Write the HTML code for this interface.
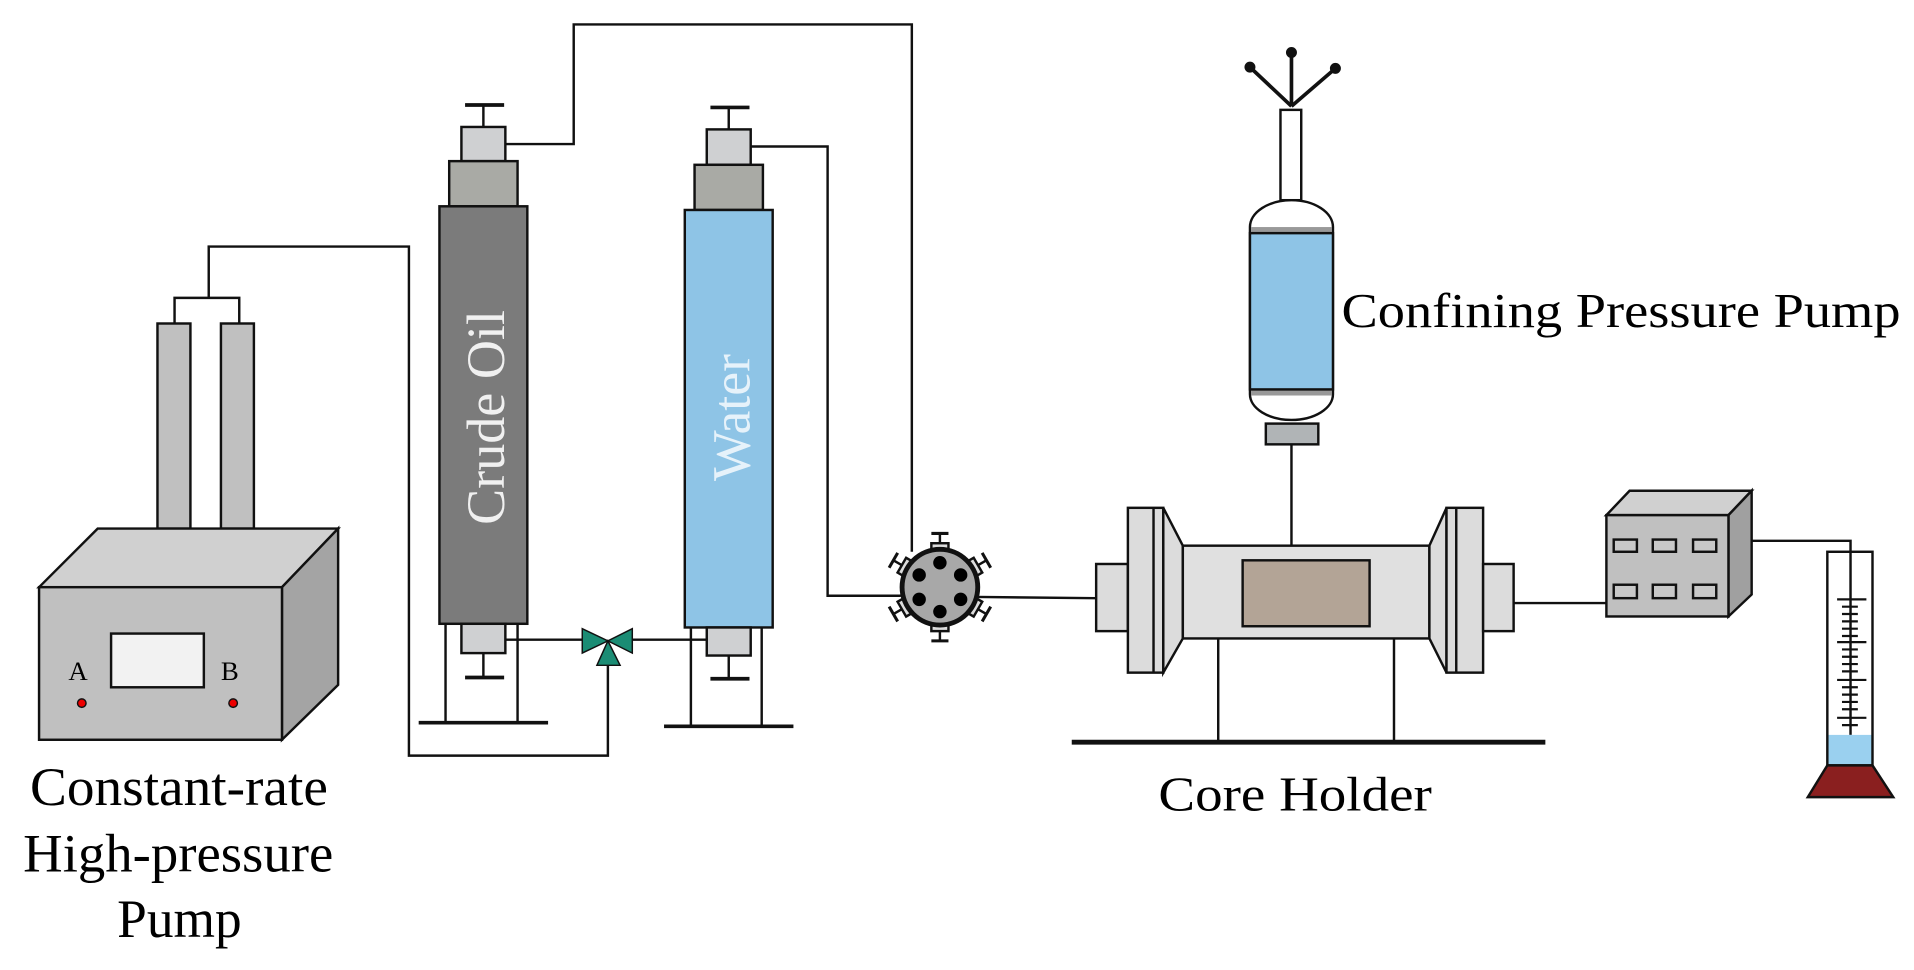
<!DOCTYPE html>
<html><head><meta charset="utf-8"><style>
html,body{margin:0;padding:0;background:#fff;width:1914px;height:970px;overflow:hidden}
svg{display:block}
text{font-family:"Liberation Serif",serif;fill:#000}
</style></head><body>
<svg width="1914" height="970" viewBox="0 0 1568 794.6" preserveAspectRatio="none" xmlns="http://www.w3.org/2000/svg">
<g stroke="#111" stroke-width="2" fill="none">
<!-- pipes -->
<polyline points="143,265 143,244 196,244 196,265"/>
<polyline points="171,244 171,202 335,202 335,619 498,619 498,545"/>
<polyline points="414,118 470,118 470,20 747,20 747,452"/>
<polyline points="615,120 678,120 678,488 738,488"/>
<line x1="414" y1="524" x2="477" y2="524"/>
<line x1="518" y1="524" x2="579" y2="524"/>
<line x1="800" y1="489" x2="898" y2="490"/>
<line x1="1240" y1="494" x2="1316" y2="494"/>
<polyline points="1435,443 1516,443 1516,602"/>
<line x1="1058" y1="364" x2="1058" y2="447"/>
</g>

<!-- Pump box -->
<g stroke="#111" stroke-width="2">
<rect x="129" y="265" width="27" height="168" fill="#c0c0c0"/>
<rect x="181" y="265" width="27" height="168" fill="#c0c0c0"/>
<polygon points="32,481 80,433 277,433 231,481" fill="#d0d0d0"/>
<polygon points="231,481 277,433 277,561 231,606" fill="#a4a4a4"/>
<rect x="32" y="481" width="199" height="125" fill="#c0c0c0"/>
<rect x="91" y="519" width="76" height="44" fill="#f2f2f2"/>
<circle cx="67" cy="576" r="3.5" fill="#e00" stroke-width="1.2"/>
<circle cx="191" cy="576" r="3.5" fill="#e00" stroke-width="1.2"/>
</g>
<text x="56" y="557" font-size="22">A</text>
<text x="181" y="557" font-size="22">B</text>

<!-- Crude oil column -->
<g stroke="#111" stroke-width="2">
<line x1="396" y1="86" x2="396" y2="104"/><line x1="381" y1="86" x2="413" y2="86" stroke-width="3"/>
<rect x="378" y="104" width="36" height="28" fill="#cfd0d2"/>
<rect x="368" y="132" width="56" height="37" fill="#a9aaa5"/>
<rect x="360" y="169" width="72" height="342" fill="#7b7b7b"/>
<rect x="378" y="511" width="36" height="24" fill="#cfd0d2"/>
<line x1="396" y1="535" x2="396" y2="555"/><line x1="381" y1="555" x2="413" y2="555" stroke-width="3"/>
<line x1="365" y1="511" x2="365" y2="591"/><line x1="424" y1="511" x2="424" y2="591"/>
<line x1="343" y1="592" x2="449" y2="592" stroke-width="3"/>
</g>
<text transform="translate(413,342) rotate(-90)" text-anchor="middle" font-size="44" style="fill:#f0f0f0" textLength="176" lengthAdjust="spacingAndGlyphs">Crude Oil</text>

<!-- Water column -->
<g stroke="#111" stroke-width="2">
<line x1="597" y1="88" x2="597" y2="106"/><line x1="582" y1="88" x2="614" y2="88" stroke-width="3"/>
<rect x="579" y="106" width="36" height="29" fill="#cfd0d2"/>
<rect x="569" y="135" width="56" height="37" fill="#a9aaa5"/>
<rect x="561" y="172" width="72" height="342" fill="#8ec4e6"/>
<rect x="579" y="514" width="36" height="23" fill="#cfd0d2"/>
<line x1="597" y1="537" x2="597" y2="556"/><line x1="582" y1="556" x2="614" y2="556" stroke-width="3"/>
<line x1="566" y1="514" x2="566" y2="594"/><line x1="624" y1="514" x2="624" y2="594"/>
<line x1="544" y1="595" x2="650" y2="595" stroke-width="3"/>
</g>
<text transform="translate(614,342) rotate(-90)" text-anchor="middle" font-size="44" style="fill:#e6f2fa" textLength="104" lengthAdjust="spacingAndGlyphs">Water</text>

<!-- 3-way valve -->
<g fill="#1b8c74" stroke="#111" stroke-width="1.2">
<polygon points="477,515 498,525 477,535"/>
<polygon points="518,515 498,525 518,535"/>
<polygon points="498,525 489,545 508,545"/>
</g>

<!-- six-port valve -->
<g transform="translate(770,481)" stroke="#111">
<g stroke-width="2" fill="#ddd">
<g id="stub"><rect x="-7" y="-36" width="14" height="5"/><line x1="0" y1="-36" x2="0" y2="-44"/><line x1="-7" y1="-44" x2="7" y2="-44" stroke-width="2.5"/></g>
<use href="#stub" transform="rotate(60)"/><use href="#stub" transform="rotate(120)"/>
<use href="#stub" transform="rotate(180)"/><use href="#stub" transform="rotate(240)"/><use href="#stub" transform="rotate(300)"/>
</g>
<circle r="31" fill="#a8a8a8" stroke-width="4"/>
<g fill="#000" stroke="none">
<circle cx="0" cy="-20" r="5.5"/><circle cx="17" cy="-10" r="5.5"/><circle cx="17" cy="10" r="5.5"/>
<circle cx="0" cy="20" r="5.5"/><circle cx="-17" cy="10" r="5.5"/><circle cx="-17" cy="-10" r="5.5"/>
</g>
</g>

<!-- Core holder -->
<g stroke="#111" stroke-width="2">
<rect x="898" y="462" width="26" height="55" fill="#dcdcdc"/>
<rect x="924" y="416" width="29" height="135" fill="#dcdcdc"/>
<line x1="945" y1="416" x2="945" y2="551"/>
<polygon points="953,416 969,447 969,523 953,551" fill="#dcdcdc"/>
<rect x="969" y="447" width="202" height="76" fill="#e0e0e0"/>
<rect x="1018" y="459" width="104" height="54" fill="#b3a496"/>
<polygon points="1185,416 1171,447 1171,523 1185,551" fill="#dcdcdc"/>
<rect x="1185" y="416" width="30" height="135" fill="#dcdcdc"/>
<line x1="1193" y1="416" x2="1193" y2="551"/>
<rect x="1215" y="462" width="25" height="55" fill="#dcdcdc"/>
<line x1="998" y1="523" x2="998" y2="607"/><line x1="1142" y1="523" x2="1142" y2="607"/>
<line x1="878" y1="608" x2="1266" y2="608" stroke-width="4"/>
</g>
<text x="949" y="664" font-size="40" textLength="224" lengthAdjust="spacingAndGlyphs">Core Holder</text>

<!-- Confining pump -->
<g stroke="#111" stroke-width="2">
<line x1="1058" y1="87" x2="1024" y2="55" stroke-width="3"/>
<line x1="1058" y1="87" x2="1058" y2="43" stroke-width="3"/>
<line x1="1058" y1="87" x2="1094" y2="56" stroke-width="3"/>
<circle cx="1024" cy="55" r="3.5" fill="#111"/><circle cx="1058" cy="43" r="3.5" fill="#111"/><circle cx="1094" cy="56" r="3.5" fill="#111"/>
<rect x="1049" y="90" width="17" height="74" fill="#fff"/>
<path d="M1024,190 L1024,186 A34,22 0 0 1 1092,186 L1092,323 A34,21 0 0 1 1024,323 Z" fill="#fff"/>
<rect x="1025" y="186" width="66" height="5" fill="#999" stroke="none"/>
<rect x="1025" y="319" width="66" height="5" fill="#999" stroke="none"/>
<rect x="1024" y="191" width="68" height="128" fill="#8ec4e6"/>
<rect x="1037" y="347" width="43" height="17" fill="#b0b4b6"/>
</g>
<text x="1099" y="268" font-size="40" textLength="458" lengthAdjust="spacingAndGlyphs">Confining Pressure Pump</text>

<!-- flow box -->
<g stroke="#111" stroke-width="2">
<polygon points="1316,422 1335,402 1435,402 1416,422" fill="#d0d0d0"/>
<polygon points="1416,422 1435,402 1435,487 1416,505" fill="#a0a0a0"/>
<rect x="1316" y="422" width="100" height="83" fill="#c0c0c0"/>
<g fill="#c8c8c8">
<rect x="1322" y="442" width="19" height="10"/><rect x="1354" y="442" width="19" height="10"/><rect x="1387" y="442" width="19" height="10"/>
<rect x="1322" y="479" width="19" height="11"/><rect x="1354" y="479" width="19" height="11"/><rect x="1387" y="479" width="19" height="11"/>
</g>
</g>

<!-- graduated cylinder -->
<g stroke="#111" stroke-width="2">
<rect x="1498" y="602" width="36" height="25" fill="#9ad0ef" stroke="none"/>
<rect x="1497" y="452" width="37" height="175" fill="none"/>
<polygon points="1497,627 1534,627 1551,653 1481,653" fill="#8a1f1f"/>
<g stroke-width="1.8">
<line x1="1505" y1="491" x2="1529" y2="491"/><line x1="1505" y1="526" x2="1529" y2="526"/>
<line x1="1505" y1="557" x2="1529" y2="557"/><line x1="1505" y1="588" x2="1529" y2="588"/>
<line x1="1509" y1="497" x2="1522" y2="497"/><line x1="1509" y1="503" x2="1522" y2="503"/><line x1="1509" y1="509" x2="1522" y2="509"/><line x1="1509" y1="515" x2="1522" y2="515"/><line x1="1509" y1="521" x2="1522" y2="521"/>
<line x1="1509" y1="532" x2="1522" y2="532"/><line x1="1509" y1="538" x2="1522" y2="538"/><line x1="1509" y1="544" x2="1522" y2="544"/><line x1="1509" y1="550" x2="1522" y2="550"/>
<line x1="1509" y1="563" x2="1522" y2="563"/><line x1="1509" y1="569" x2="1522" y2="569"/><line x1="1509" y1="575" x2="1522" y2="575"/><line x1="1509" y1="581" x2="1522" y2="581"/>
<line x1="1509" y1="594" x2="1522" y2="594"/>
</g>
</g>

<text x="24.6" y="659.5" font-size="44" textLength="244" lengthAdjust="spacingAndGlyphs">Constant-rate</text>
<text x="19" y="714" font-size="44" textLength="254" lengthAdjust="spacingAndGlyphs">High-pressure</text>
<text x="96" y="767.5" font-size="44" textLength="102" lengthAdjust="spacingAndGlyphs">Pump</text>
</svg>
</body></html>
